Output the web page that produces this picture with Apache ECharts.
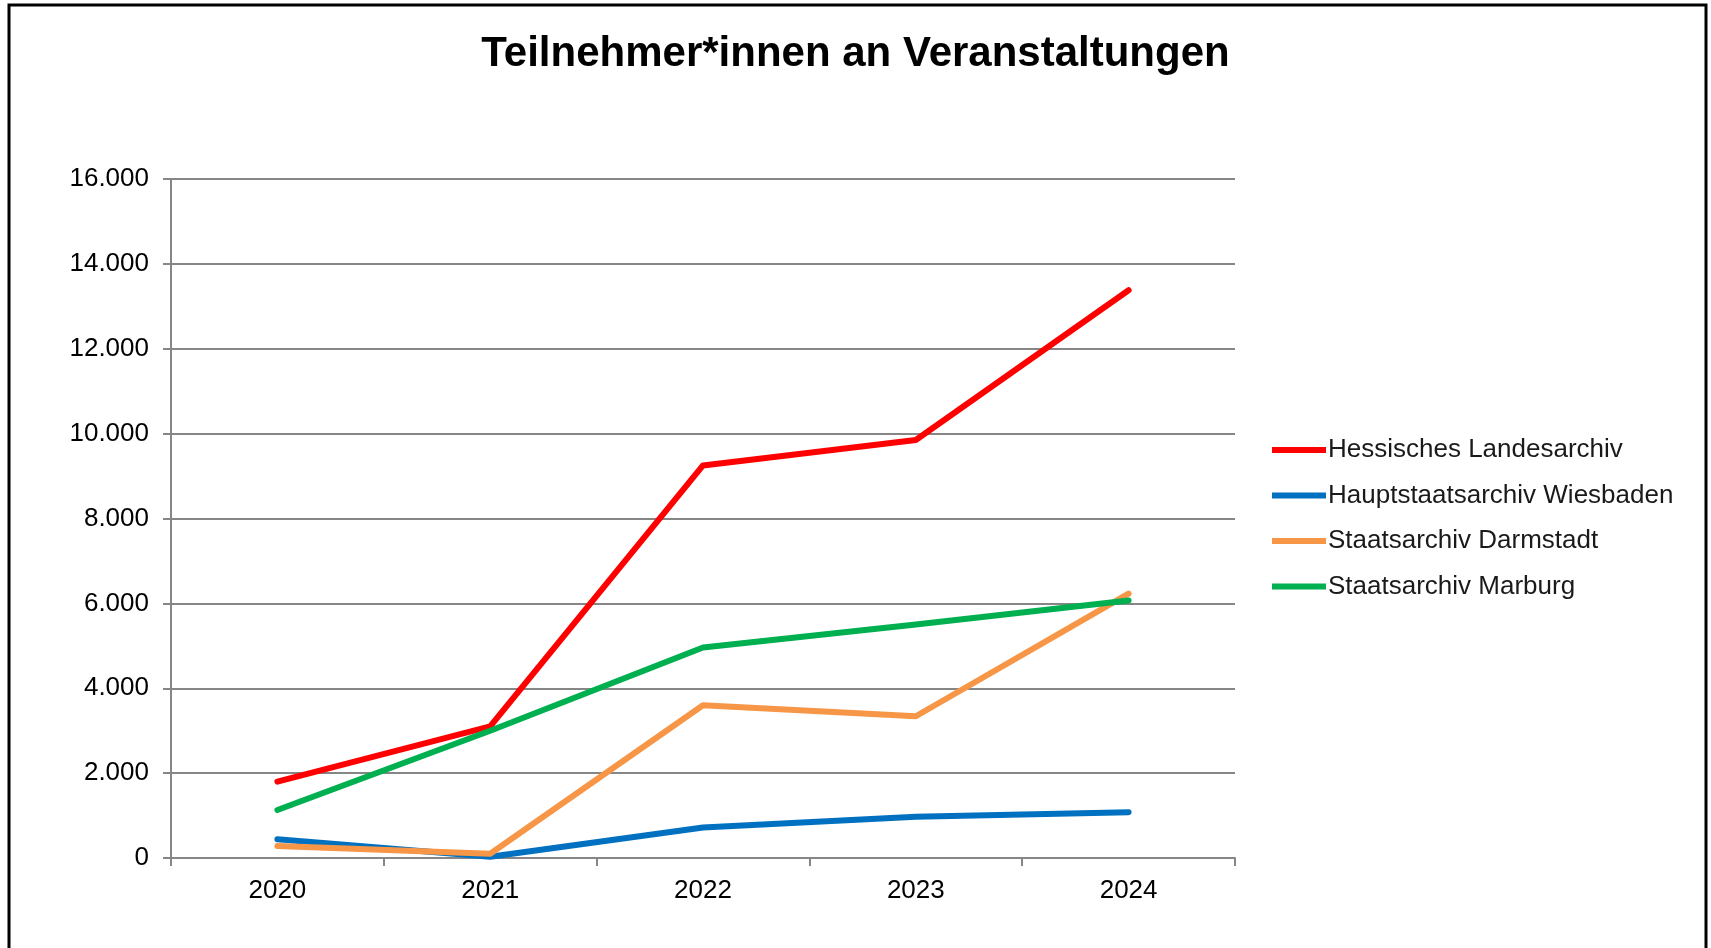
<!DOCTYPE html>
<html>
<head>
<meta charset="utf-8">
<script src="https://cdn.jsdelivr.net/npm/echarts@6/dist/echarts.min.js"></script>
<style>
  html, body { margin: 0; padding: 0; background: #fff; }
  #chart { width: 1711px; height: 948px; }
</style>
</head>
<body>
<div id="chart"></div>
<script>
const years = ['2020', '2021', '2022', '2023', '2024'];
const landesarchiv = [1800, 3100, 9250, 9850, 13380];
const wiesbaden = [440, 30, 720, 970, 1080];
const darmstadt = [280, 100, 3600, 3340, 6230];
const marburg = [1130, 3000, 4960, 5500, 6070];

const font = 'Liberation Sans, Arial, sans-serif';

function line(name, data, color) {
  return {
    name: name,
    type: 'line',
    data: data,
    symbol: 'none',
    color: color,
    lineStyle: { width: 6, color: color, cap: 'round', join: 'round' }
  };
}

const chart = echarts.init(document.getElementById('chart'));
chart.setOption({
  animation: false,
  backgroundColor: '#fff',
  textStyle: { fontFamily: font },
  title: {
    text: 'Teilnehmer*innen an Veranstaltungen',
    left: 'center',
    top: 28,
    textStyle: { fontSize: 42, fontWeight: 'bold', color: '#000', fontFamily: font }
  },
  graphic: [{
    type: 'rect',
    shape: { x: 9, y: 5, width: 1697, height: 960 },
    style: { fill: 'none', stroke: '#000', lineWidth: 3 },
    silent: true
  }],
  legend: {
    orient: 'vertical',
    left: 1267,
    top: 432,
    itemWidth: 54,
    itemHeight: 6,
    itemGap: 19.5,
    icon: 'rect',
    textStyle: { fontSize: 26, color: '#1a1a1a', fontFamily: font, padding: [0, 0, 0, -3] }
  },
  grid: { left: 171, right: 476, top: 179, bottom: 90 },
  xAxis: {
    type: 'category',
    data: years,
    boundaryGap: true,
    axisLine: { lineStyle: { color: '#868686', width: 2 } },
    axisTick: { show: true, length: 8, lineStyle: { color: '#868686', width: 2 } },
    axisLabel: { fontSize: 26, color: '#000', margin: 20 }
  },
  yAxis: {
    type: 'value',
    min: 0,
    max: 16000,
    interval: 2000,
    axisLine: { show: true, lineStyle: { color: '#868686', width: 2 } },
    axisTick: { show: true, length: 8, lineStyle: { color: '#868686', width: 2 } },
    splitLine: { lineStyle: { color: '#868686', width: 2 } },
    axisLabel: {
      fontSize: 26,
      color: '#000',
      margin: 22,
      formatter: function (v) {
        return v.toString().replace(/\B(?=(\d{3})+(?!\d))/g, '.');
      }
    }
  },
  series: [
    line('Hessisches Landesarchiv', landesarchiv, '#ff0000'),
    line('Hauptstaatsarchiv Wiesbaden', wiesbaden, '#0070c0'),
    line('Staatsarchiv Darmstadt', darmstadt, '#f79646'),
    line('Staatsarchiv Marburg', marburg, '#00b050')
  ]
});
</script>
</body>
</html>
